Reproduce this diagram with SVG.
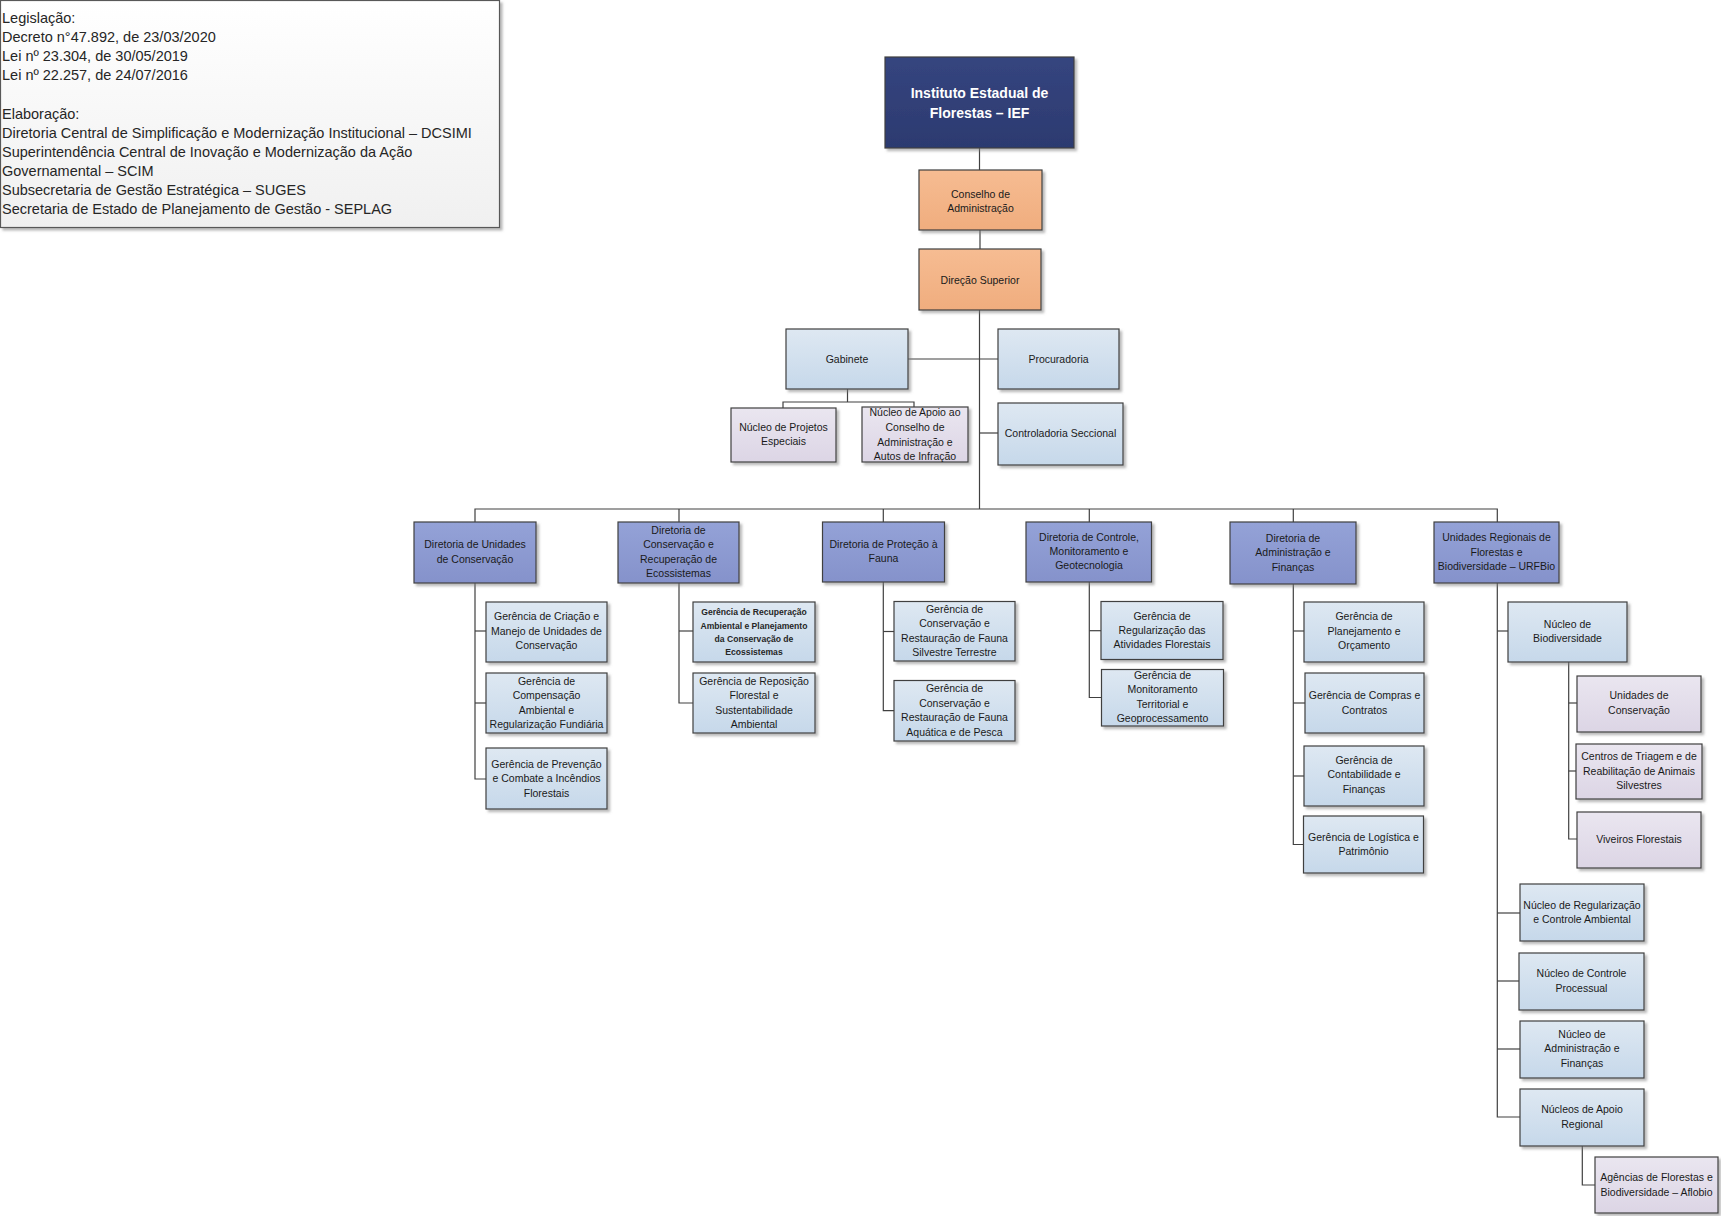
<svg xmlns="http://www.w3.org/2000/svg" width="1721" height="1216" viewBox="0 0 1721 1216">
<defs>
<linearGradient id="gNavy" x1="0" y1="0" x2="0" y2="1"><stop offset="0" stop-color="#35457F"/><stop offset="1" stop-color="#2C3A70"/></linearGradient>
<linearGradient id="gOrange" x1="0" y1="0" x2="0" y2="1"><stop offset="0" stop-color="#F6BC92"/><stop offset="1" stop-color="#F0AD7E"/></linearGradient>
<linearGradient id="gBlue" x1="0" y1="0" x2="0" y2="1"><stop offset="0" stop-color="#DEE8F2"/><stop offset="1" stop-color="#C6D8EA"/></linearGradient>
<linearGradient id="gDir" x1="0" y1="0" x2="0" y2="1"><stop offset="0" stop-color="#94A2D7"/><stop offset="1" stop-color="#8592CB"/></linearGradient>
<linearGradient id="gLav" x1="0" y1="0" x2="0" y2="1"><stop offset="0" stop-color="#EAE6F0"/><stop offset="1" stop-color="#DCD5E5"/></linearGradient>
<linearGradient id="gLeg" x1="0" y1="0" x2="0" y2="1"><stop offset="0" stop-color="#FFFFFF"/><stop offset="1" stop-color="#F0F0F0"/></linearGradient>
<filter id="sh" x="-10%" y="-10%" width="130%" height="140%"><feDropShadow dx="2.5" dy="2.5" stdDeviation="1.2" flood-color="#7F7F7F" flood-opacity="0.55"/></filter>
</defs>
<style>
rect{stroke:#404040;stroke-width:1.2;filter:url(#sh)}
.navy{fill:url(#gNavy)}
.or{fill:url(#gOrange)}
.bl{fill:url(#gBlue)}
.dir{fill:url(#gDir)}
.lav{fill:url(#gLav)}
.leg{fill:url(#gLeg);stroke:#595959}
text{font-family:"Liberation Sans",Arial,sans-serif;font-size:10.5px;fill:#1A1A1A;text-anchor:middle}
.t{font-size:14px;font-weight:bold;fill:#FFFFFF}
.s{font-size:8.6px;font-weight:bold;fill:#262626}
.lg{font-size:14.5px;text-anchor:start;fill:#262626}
#conn path{fill:none;stroke:#404040;stroke-width:1.2}
</style>

<g id="conn">
<path d="M979.5 148 V170"/>
<path d="M980 230 V249"/>
<path d="M979.5 310 V509"/>
<path d="M908 359 H998"/>
<path d="M979.5 433 H998"/>
<path d="M847.5 389 V402"/>
<path d="M783 408 V402 H914 V407"/>
<path d="M475 522 V509 H1497.3 V522"/>
<path d="M679 509 V522"/>
<path d="M883.3 509 V522"/>
<path d="M1089.3 509 V522"/>
<path d="M1293.3 509 V522"/>
<path d="M475 583 V779 H486"/>
<path d="M475 631 H486"/>
<path d="M475 703 H486"/>
<path d="M679 583 V703 H693"/>
<path d="M679 631 H693"/>
<path d="M883.3 582 V710.7 H894"/>
<path d="M883.3 631.5 H894"/>
<path d="M1089.3 582 V697.5 H1101.5"/>
<path d="M1089.3 630.7 H1101"/>
<path d="M1293.3 584 V844.5 H1303"/>
<path d="M1293.3 631 H1304"/>
<path d="M1293.3 703 H1305"/>
<path d="M1293.3 776 H1304"/>
<path d="M1497.3 583 V1117 H1520"/>
<path d="M1497.3 631 H1508"/>
<path d="M1497.3 913 H1520"/>
<path d="M1497.3 981 H1519"/>
<path d="M1497.3 1049 H1520"/>
<path d="M1568.7 662 V839 H1577"/>
<path d="M1568.7 703 H1577"/>
<path d="M1568.7 771 H1576"/>
<path d="M1582.3 1146 V1185 H1595"/>
</g>

<g id="legenda">
<rect class="leg" x="0.5" y="0.5" width="499" height="227"/>
<text class="lg" x="2" y="23">Legislação:</text>
<text class="lg" x="2" y="42.1">Decreto n°47.892, de 23/03/2020</text>
<text class="lg" x="2" y="61.2">Lei nº 23.304, de 30/05/2019</text>
<text class="lg" x="2" y="80.3">Lei nº 22.257, de 24/07/2016</text>
<text class="lg" x="2" y="118.5">Elaboração:</text>
<text class="lg" x="2" y="137.6">Diretoria Central de Simplificação e Modernização Institucional – DCSIMI</text>
<text class="lg" x="2" y="156.7">Superintendência Central de Inovação e Modernização da Ação</text>
<text class="lg" x="2" y="175.8">Governamental – SCIM</text>
<text class="lg" x="2" y="194.9">Subsecretaria de Gestão Estratégica – SUGES</text>
<text class="lg" x="2" y="214">Secretaria de Estado de Planejamento de Gestão - SEPLAG</text>
</g>

<g id="ief"><rect class="navy" x="885" y="57" width="189" height="91"/>
<text class="t" x="979.5" y="98">Instituto Estadual de</text><text class="t" x="979.5" y="118">Florestas – IEF</text></g>
<g id="conselho"><rect class="or" x="919" y="170" width="123" height="60"/>
<text x="980.5" y="198">Conselho de</text><text x="980.5" y="211.5">Administração</text></g>
<g id="direcao"><rect class="or" x="919" y="249" width="122" height="61"/>
<text x="980" y="284">Direção Superior</text></g>
<g id="gabinete"><rect class="bl" x="786" y="329" width="122" height="60"/>
<text x="847" y="363">Gabinete</text></g>
<g id="procuradoria"><rect class="bl" x="998" y="329" width="121" height="60"/>
<text x="1058.5" y="363">Procuradoria</text></g>
<g id="nucleo-projetos"><rect class="lav" x="731" y="408" width="105" height="54"/>
<text x="783.5" y="431">Núcleo de Projetos</text><text x="783.5" y="445">Especiais</text></g>
<g id="nucleo-apoio-conselho"><rect class="lav" x="862" y="407" width="106" height="55"/>
<text x="915" y="416">Núcleo de Apoio ao</text><text x="915" y="431">Conselho de</text><text x="915" y="446">Administração e</text><text x="915" y="460">Autos de Infração</text></g>
<g id="controladoria"><rect class="bl" x="998" y="403" width="125" height="62"/>
<text x="1060.5" y="437">Controladoria Seccional</text></g>

<g id="dir-unidades"><rect class="dir" x="414" y="522" width="122" height="61"/>
<text x="475" y="548">Diretoria de Unidades</text><text x="475" y="563">de Conservação</text></g>
<g id="dir-conservacao"><rect class="dir" x="618" y="522" width="121" height="61"/>
<text x="678.5" y="534">Diretoria de</text><text x="678.5" y="548">Conservação e</text><text x="678.5" y="563">Recuperação de</text><text x="678.5" y="577">Ecossistemas</text></g>
<g id="dir-fauna"><rect class="dir" x="822.5" y="522" width="122" height="60"/>
<text x="883.5" y="547.5">Diretoria de Proteção à</text><text x="883.5" y="561.5">Fauna</text></g>
<g id="dir-controle"><rect class="dir" x="1026" y="522" width="125.5" height="60"/>
<text x="1089" y="541">Diretoria de Controle,</text><text x="1089" y="555">Monitoramento e</text><text x="1089" y="569">Geotecnologia</text></g>
<g id="dir-adm"><rect class="dir" x="1230" y="522" width="126" height="62"/>
<text x="1293" y="542">Diretoria de</text><text x="1293" y="556">Administração e</text><text x="1293" y="570.5">Finanças</text></g>
<g id="urfbio"><rect class="dir" x="1434" y="522" width="125" height="61"/>
<text x="1496.5" y="541">Unidades Regionais de</text><text x="1496.5" y="556">Florestas e</text><text x="1496.5" y="570">Biodiversidade – URFBio</text></g>

<g id="ger-criacao"><rect class="bl" x="486" y="602" width="121" height="60"/>
<text x="546.5" y="620">Gerência de Criação e</text><text x="546.5" y="635">Manejo de Unidades de</text><text x="546.5" y="649">Conservação</text></g>
<g id="ger-compensacao"><rect class="bl" x="486" y="673" width="121" height="60"/>
<text x="546.5" y="685">Gerência de</text><text x="546.5" y="699">Compensação</text><text x="546.5" y="714">Ambiental e</text><text x="546.5" y="728">Regularização Fundiária</text></g>
<g id="ger-prevencao"><rect class="bl" x="486" y="748" width="121" height="61"/>
<text x="546.5" y="768">Gerência de Prevenção</text><text x="546.5" y="782">e Combate a Incêndios</text><text x="546.5" y="797">Florestais</text></g>

<g id="ger-recuperacao"><rect class="bl" x="693" y="602" width="122" height="60"/>
<text class="s" x="754" y="615">Gerência de Recuperação</text><text class="s" x="754" y="628.5">Ambiental e Planejamento</text><text class="s" x="754" y="641.5">da Conservação de</text><text class="s" x="754" y="654.5">Ecossistemas</text></g>
<g id="ger-reposicao"><rect class="bl" x="693" y="673" width="122" height="60"/>
<text x="754" y="685">Gerência de Reposição</text><text x="754" y="699">Florestal e</text><text x="754" y="714">Sustentabilidade</text><text x="754" y="728">Ambiental</text></g>

<g id="ger-fauna-terrestre"><rect class="bl" x="894" y="601.5" width="121" height="59.5"/>
<text x="954.5" y="613">Gerência de</text><text x="954.5" y="627">Conservação e</text><text x="954.5" y="641.5">Restauração de Fauna</text><text x="954.5" y="656">Silvestre Terrestre</text></g>
<g id="ger-fauna-aquatica"><rect class="bl" x="894" y="680.5" width="121" height="60.5"/>
<text x="954.5" y="692">Gerência de</text><text x="954.5" y="706.5">Conservação e</text><text x="954.5" y="721">Restauração de Fauna</text><text x="954.5" y="735.5">Aquática e de Pesca</text></g>

<g id="ger-regularizacao"><rect class="bl" x="1101" y="601.5" width="122" height="58"/>
<text x="1162" y="620">Gerência de</text><text x="1162" y="634">Regularização das</text><text x="1162" y="648">Atividades Florestais</text></g>
<g id="ger-monitoramento"><rect class="bl" x="1101.5" y="669.5" width="122" height="56.5"/>
<text x="1162.5" y="679">Gerência de</text><text x="1162.5" y="693">Monitoramento</text><text x="1162.5" y="707.5">Territorial e</text><text x="1162.5" y="722">Geoprocessamento</text></g>

<g id="ger-planejamento"><rect class="bl" x="1304" y="602" width="120" height="60"/>
<text x="1364" y="620">Gerência de</text><text x="1364" y="635">Planejamento e</text><text x="1364" y="649">Orçamento</text></g>
<g id="ger-compras"><rect class="bl" x="1305" y="673" width="119" height="60"/>
<text x="1364.5" y="699">Gerência de Compras e</text><text x="1364.5" y="714">Contratos</text></g>
<g id="ger-contabilidade"><rect class="bl" x="1304" y="746" width="120" height="60"/>
<text x="1364" y="764">Gerência de</text><text x="1364" y="778">Contabilidade e</text><text x="1364" y="793">Finanças</text></g>
<g id="ger-logistica"><rect class="bl" x="1303.5" y="816" width="120" height="57"/>
<text x="1363.5" y="841">Gerência de Logística e</text><text x="1363.5" y="855">Patrimônio</text></g>

<g id="nucleo-biodiversidade"><rect class="bl" x="1508" y="602" width="119" height="60"/>
<text x="1567.5" y="628">Núcleo de</text><text x="1567.5" y="642">Biodiversidade</text></g>
<g id="unidades-conservacao"><rect class="lav" x="1577" y="676" width="124" height="56"/>
<text x="1639" y="699">Unidades de</text><text x="1639" y="714">Conservação</text></g>
<g id="centros-triagem"><rect class="lav" x="1576" y="744" width="126" height="55"/>
<text x="1639" y="760">Centros de Triagem e de</text><text x="1639" y="775">Reabilitação de Animais</text><text x="1639" y="789">Silvestres</text></g>
<g id="viveiros"><rect class="lav" x="1577" y="812" width="124" height="56"/>
<text x="1639" y="843">Viveiros Florestais</text></g>
<g id="nucleo-regularizacao"><rect class="bl" x="1520" y="884" width="124" height="57"/>
<text x="1582" y="909">Núcleo de Regularização</text><text x="1582" y="923">e Controle Ambiental</text></g>
<g id="nucleo-controle"><rect class="bl" x="1519" y="953" width="125" height="57"/>
<text x="1581.5" y="977">Núcleo de Controle</text><text x="1581.5" y="992">Processual</text></g>
<g id="nucleo-adm"><rect class="bl" x="1520" y="1021" width="124" height="57"/>
<text x="1582" y="1038">Núcleo de</text><text x="1582" y="1052">Administração e</text><text x="1582" y="1067">Finanças</text></g>
<g id="nucleos-apoio"><rect class="bl" x="1520" y="1089" width="124" height="57"/>
<text x="1582" y="1113">Núcleos de Apoio</text><text x="1582" y="1128">Regional</text></g>
<g id="agencias"><rect class="lav" x="1595" y="1157" width="123" height="56"/>
<text x="1656.5" y="1181">Agências de Florestas e</text><text x="1656.5" y="1196">Biodiversidade – Aflobio</text></g>
</svg>
